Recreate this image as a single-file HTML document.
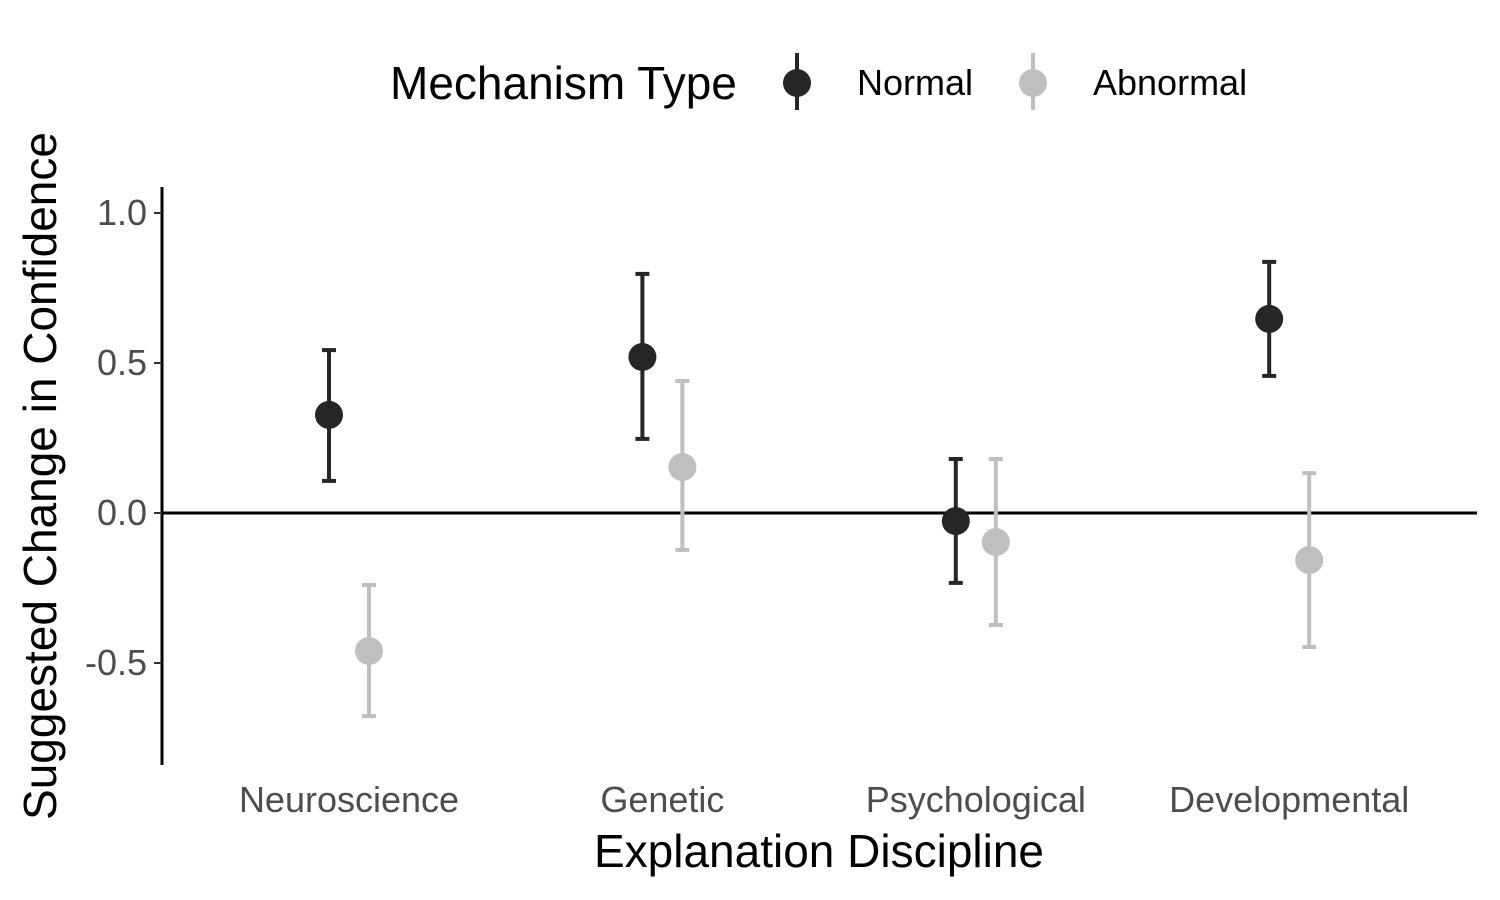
<!DOCTYPE html>
<html><head><meta charset="utf-8"><style>
body{margin:0;background:#fff}
svg{display:block;font-family:"Liberation Sans",Arial,sans-serif}
</style></head><body>
<svg id="chart" width="1500" height="900" viewBox="0 0 1500 900">
<g>
<text x="390" y="99" font-size="46" fill="#000">Mechanism Type</text>
<g>
<line x1="797" y1="53" x2="797" y2="110" stroke="#262626" stroke-width="4"/>
<circle cx="797" cy="83" r="14" fill="#262626"/>
<text x="857" y="95" font-size="36" fill="#000">Normal</text>
</g>
<g>
<line x1="1033" y1="53" x2="1033" y2="110" stroke="#bfbfbf" stroke-width="4"/>
<circle cx="1033" cy="83" r="14" fill="#bfbfbf"/>
<text x="1093" y="95" font-size="36" fill="#000">Abnormal</text>
</g>
</g>
<line x1="162" y1="187" x2="162" y2="765" stroke="#000" stroke-width="3"/>
<g id="yticks"></g>
<g id="xticks"></g>
<line id="zero" x1="162" x2="1477" stroke="#000" stroke-width="3"/>
<g id="marks"></g>
<text x="819" y="867" font-size="46" text-anchor="middle" fill="#000">Explanation Discipline</text>
<text transform="translate(56,476) rotate(-90)" font-size="46" text-anchor="middle" fill="#000">Suggested Change in Confidence</text>
</svg>
<script>
const categories=["Neuroscience","Genetic","Psychological","Developmental"];
const normalMean=[0.327,0.52,-0.027,0.647];
const normalLow=[0.107,0.247,-0.233,0.457];
const normalHigh=[0.543,0.797,0.18,0.837];
const abnormalMean=[-0.46,0.153,-0.097,-0.157];
const abnormalLow=[-0.677,-0.123,-0.373,-0.447];
const abnormalHigh=[-0.24,0.44,0.18,0.133];
const yTicks=[1.0,0.5,0.0,-0.5];
const yTickLabels=["1.0","0.5","0.0","-0.5"];

const NS="http://www.w3.org/2000/svg";
function y(v){return 513-v*300;}
function x(i){return 349+i*313.4;}
function mk(tag,attrs,parent){const e=document.createElementNS(NS,tag);for(const k in attrs)e.setAttribute(k,attrs[k]);parent.appendChild(e);return e;}
document.getElementById('zero').setAttribute('y1',y(0));
document.getElementById('zero').setAttribute('y2',y(0));
const yt=document.getElementById('yticks');
yTicks.forEach((v,i)=>{
  const l=mk('line',{x1:154,x2:162,y1:y(v),y2:y(v),stroke:'#333','stroke-width':2},yt);
  
  
  const t=mk('text',{x:147,y:y(v)+12,'font-size':36,'text-anchor':'end',fill:'#4d4d4d'},yt);
  t.textContent=yTickLabels[i];
  
  
});
const xt=document.getElementById('xticks');
categories.forEach((c,i)=>{
  const t=mk('text',{x:x(i),y:812,'font-size':36,'text-anchor':'middle',fill:'#4d4d4d'},xt);
  t.textContent=c;
  
  
});
const g=document.getElementById('marks');
function series(mean,lo,hi,off,color,name){
  mean.forEach((m,i)=>{
    const cx=x(i)+off;
    const grp=mk('g',{},g);
    
    
    mk('line',{x1:cx,x2:cx,y1:y(hi[i]),y2:y(lo[i]),stroke:color,'stroke-width':4},grp);
    mk('line',{x1:cx-7,x2:cx+7,y1:y(hi[i]),y2:y(hi[i]),stroke:color,'stroke-width':4},grp);
    mk('line',{x1:cx-7,x2:cx+7,y1:y(lo[i]),y2:y(lo[i]),stroke:color,'stroke-width':4},grp);
    mk('circle',{cx:cx,cy:y(m),r:14,fill:color},grp);
  });
}
series(normalMean,normalLow,normalHigh,-20,'#262626','normal-point');
series(abnormalMean,abnormalLow,abnormalHigh,20,'#bfbfbf','abnormal-point');
</script>
</body></html>
